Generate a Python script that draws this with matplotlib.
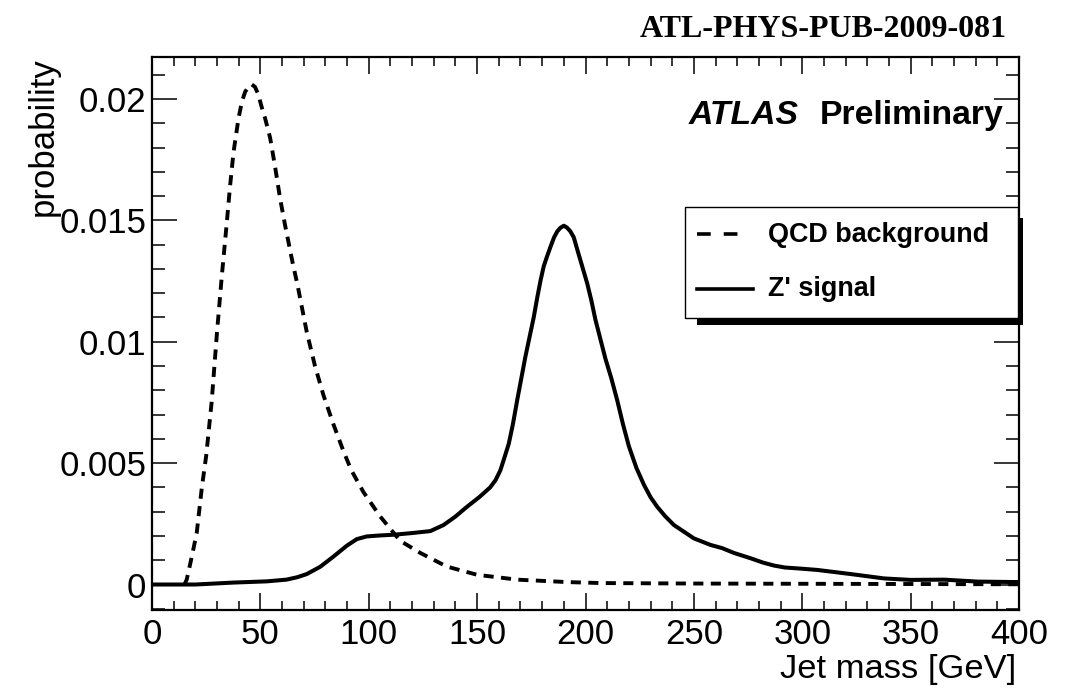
import matplotlib
matplotlib.use("Agg")
import matplotlib.pyplot as plt
from matplotlib.patches import Rectangle
from matplotlib.lines import Line2D
from matplotlib.ticker import MultipleLocator, FixedLocator, FixedFormatter

plt.rcParams['font.family'] = ['Liberation Sans', 'DejaVu Sans']

# QCD background jet-mass distribution (GeV, probability)
qcd_mass = [15, 16, 18, 20.6, 23, 25, 27.5, 30, 32.2, 34.5, 36, 37.6, 39.9,
            41.5, 43, 44.5, 46, 47.5, 49, 50.5, 52.2, 54.5, 56.8, 59.1, 61.4,
            65, 67, 71.4, 75.2, 79.1, 83.7, 88.3, 92, 97.6, 105.3, 114.5,
            123.8, 136, 150, 168.5, 191.6, 207, 250, 300, 350, 400]
qcd_prob = [0.0, 0.0002, 0.0010, 0.0021, 0.0040, 0.0053, 0.0075, 0.0104,
            0.0127, 0.0149, 0.0164, 0.0178, 0.0192, 0.0199, 0.0203, 0.0205,
            0.0206, 0.0205, 0.0202, 0.0197, 0.0192, 0.0184, 0.0172, 0.0159,
            0.0148, 0.0132, 0.0124, 0.0104, 0.0090, 0.0078, 0.0066, 0.0055,
            0.0047, 0.0038, 0.0028, 0.0018, 0.0013, 0.00074, 0.0004, 0.0002,
            0.0001, 0.00006, 0.00004, 0.00003, 0.00002, 0.00001]

# Z' signal jet-mass distribution (GeV, probability)
zp_mass = [0, 20, 37.6, 53, 62, 67, 71.4, 77.6, 83.7, 89.9, 94.5, 99, 105,
           111.4, 120, 128.4, 134.5, 140, 145.3, 151, 156, 158.5, 160.7,
           162.5, 164.6, 166.5, 168.5, 170.4, 172.3, 174.2, 176.1, 177.7,
           179.2, 180.7, 182.2, 183.8, 185.5, 187, 188.5, 190, 191.5, 193,
           194.6, 196.2, 198.5, 200.8, 202.7, 204.6, 206.9, 209.2, 211.9,
           214.6, 217.3, 220, 223.5, 227, 230, 233.1, 236.9, 240.8, 245,
           250, 257.7, 263, 268.5, 276.2, 282, 287, 292, 300, 307, 322.4,
           337.8, 350, 365.5, 380.9, 400]
zp_prob = [0.0, 0.0, 0.00008, 0.00013, 0.0002, 0.0003, 0.00043, 0.00073,
           0.00115, 0.0016, 0.00187, 0.00198, 0.00202, 0.00205, 0.00212,
           0.0022, 0.00245, 0.0028, 0.0032, 0.0036, 0.0040, 0.0043, 0.0047,
           0.0052, 0.0058, 0.0066, 0.0076, 0.0085, 0.0094, 0.0102, 0.0110,
           0.0118, 0.0125, 0.0131, 0.0135, 0.0139, 0.0143, 0.01455, 0.0147,
           0.01478, 0.0147, 0.01455, 0.0143, 0.0138, 0.0131, 0.0124, 0.0117,
           0.0109, 0.0101, 0.0093, 0.0085, 0.0076, 0.0066, 0.0057, 0.0048,
           0.0041, 0.0036, 0.0032, 0.0028, 0.00245, 0.0022, 0.0019, 0.00163,
           0.0015, 0.0013, 0.00108, 0.0009, 0.00078, 0.0007, 0.00065, 0.0006,
           0.00043, 0.00025, 0.00019, 0.0002, 0.00012, 0.0001]

y_ticks = [0.0, 0.005, 0.01, 0.015, 0.02]
y_tick_labels = ['0', '0.005', '0.01', '0.015', '0.02']
legend_labels = ['QCD background', "Z' signal"]

fig = plt.figure(figsize=(10.71, 6.88), dpi=100)
ax = fig.add_axes([152 / 1071, 78 / 688, 867 / 1071, 553 / 688])

dash_style = (0, (2.6, 1.9))
ax.plot(qcd_mass, qcd_prob, color='black', lw=2.8, linestyle=dash_style,
        solid_joinstyle='round')
ax.plot(zp_mass, zp_prob, color='black', lw=2.9, solid_joinstyle='round',
        solid_capstyle='round')

ax.set_xlim(0, 400)
ax.set_ylim(-0.00105, 0.02173)

ax.xaxis.set_major_locator(MultipleLocator(50))
ax.xaxis.set_minor_locator(MultipleLocator(10))
ax.yaxis.set_major_locator(FixedLocator(y_ticks))
ax.yaxis.set_major_formatter(FixedFormatter(y_tick_labels))
ax.yaxis.set_minor_locator(MultipleLocator(0.001))

for side in ax.spines.values():
    side.set_linewidth(1.6)

ax.tick_params(which='both', direction='in', top=True, right=True,
               width=1.1, labelsize=25, colors='black')
ax.tick_params(axis='x', which='major', length=12.5, pad=6)
ax.tick_params(axis='x', which='minor', length=6.5)
ax.tick_params(axis='y', which='major', length=18, pad=4)
ax.tick_params(axis='y', which='minor', length=9.5)

ax.set_xlabel('Jet mass [GeV]', fontsize=24.8, loc='right')
ax.xaxis.set_label_coords(0.9965, -0.080)
ax.set_ylabel('probability', fontsize=25, loc='top')
ax.yaxis.set_label_coords(-0.106, 1.0)

# Experiment label
ax.text(0.619, 0.878, 'ATLAS', transform=ax.transAxes, fontsize=24.3,
        fontweight='bold', fontstyle='italic', ha='left', va='baseline')
ax.text(0.982, 0.878, 'Preliminary', transform=ax.transAxes, fontsize=24.3,
        fontweight='bold', ha='right', va='baseline')

# Legend box with a solid drop shadow
ax.add_patch(Rectangle((0.6286, 0.5154), 1.0046 - 0.6286, 0.7089 - 0.5154,
                       transform=ax.transAxes, facecolor='black',
                       edgecolor='none', clip_on=False, zorder=5))
ax.add_patch(Rectangle((0.6148, 0.528), 0.9988 - 0.6148, 0.7288 - 0.528,
                       transform=ax.transAxes, facecolor='white',
                       edgecolor='black', lw=1.0, clip_on=False, zorder=6))
ax.add_line(Line2D([0.6286, 0.6863], [0.680, 0.680], transform=ax.transAxes,
                   color='black', lw=2.6, linestyle=(0, (3.8, 3.6)),
                   zorder=7))
ax.add_line(Line2D([0.6286, 0.6932], [0.5805, 0.5805], transform=ax.transAxes,
                   color='black', lw=2.6, zorder=7))
ax.text(0.7105, 0.6655, legend_labels[0], transform=ax.transAxes,
        fontsize=19.4, fontweight='bold', ha='left', va='baseline', zorder=8)
ax.text(0.7105, 0.5678, legend_labels[1], transform=ax.transAxes,
        fontsize=19.4, fontweight='bold', ha='left', va='baseline', zorder=8)

fig.text(1007 / 1071, 1 - 37 / 688, 'ATL-PHYS-PUB-2009-081',
         family=['Liberation Serif', 'DejaVu Serif'], fontweight='bold',
         fontsize=23, ha='right', va='baseline')

fig.savefig('out.png', dpi=100, facecolor='white')
